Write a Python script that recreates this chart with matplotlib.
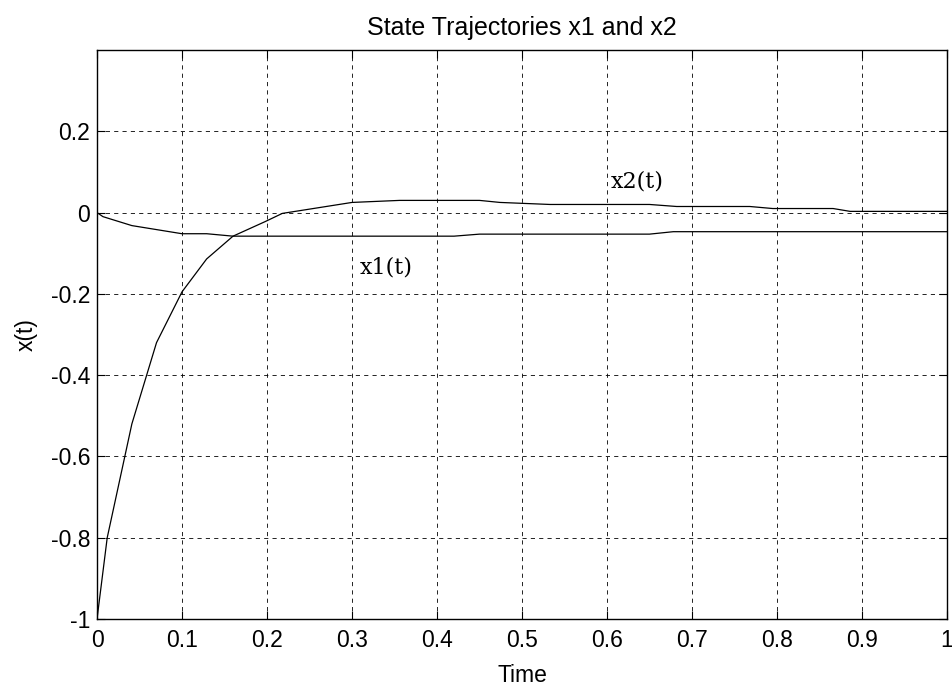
import matplotlib
matplotlib.use('Agg')
import matplotlib.pyplot as plt
import numpy as np

# Данные
t2 = [0, 0.012, 0.041, 0.07, 0.1, 0.129, 0.16, 0.198, 0.218, 0.3, 0.356,
      0.45, 0.474, 0.533, 0.65, 0.682, 0.768, 0.795, 0.866, 0.886, 1.0]
x2 = [-1, -0.80, -0.52, -0.32, -0.195, -0.114, -0.058, -0.022, -0.002, 0.025, 0.030,
      0.030, 0.025, 0.020, 0.020, 0.015, 0.015, 0.010, 0.010, 0.003, 0.003]

t1 = [0, 0.007, 0.041, 0.1, 0.129, 0.16, 0.42, 0.45, 0.65, 0.678, 1.0]
x1 = [0, -0.01, -0.032, -0.052, -0.052, -0.058, -0.058, -0.053, -0.053, -0.047, -0.047]

xticks = np.round(np.arange(0, 1.01, 0.1), 1)
xlabels = ['0', '0.1', '0.2', '0.3', '0.4', '0.5', '0.6', '0.7', '0.8', '0.9', '1']
yticks = np.round(np.arange(-1, 0.21, 0.2), 1)
ylabels = ['-1', '-0.8', '-0.6', '-0.4', '-0.2', '0', '0.2']

sans = ['Liberation Sans', 'DejaVu Sans']
serif = ['DejaVu Serif']
plt.rcParams['font.family'] = sans

fig = plt.figure(figsize=(9.53, 6.92), dpi=100)
ax = fig.add_axes([0.1018, 0.1055, 0.8919, 0.8222])

ax.plot(t1, x1, color='black', lw=0.9)
ax.plot(t2, x2, color='black', lw=0.9)

ax.text(0.309, -0.136, 'x1(t)', family=serif, fontsize=16, ha='left', va='center')
ax.text(0.604, 0.077, 'x2(t)', family=serif, fontsize=16, ha='left', va='center')

ax.set_xlim(0, 1)
ax.set_ylim(-1, 0.4)
ax.set_xticks(xticks)
ax.set_xticklabels(xlabels)
ax.set_yticks(yticks)
ax.set_yticklabels(ylabels)
ax.tick_params(direction='in', length=6, top=True, right=True, labelsize=16.5, width=0.8)
ax.tick_params(axis='x', pad=7)
ax.tick_params(axis='y', pad=5)
ax.grid(True, color='black', lw=0.6, linestyle=(0, (5, 5)))
for s in ax.spines.values():
    s.set_linewidth(1.0)

ax.set_title('State Trajectories x1 and x2', fontsize=18, pad=11)
ax.set_xlabel('Time', fontsize=16.5, labelpad=9)
ax.set_ylabel('x(t)', fontsize=16.5, labelpad=9)

fig.savefig('out.png', dpi=100)
